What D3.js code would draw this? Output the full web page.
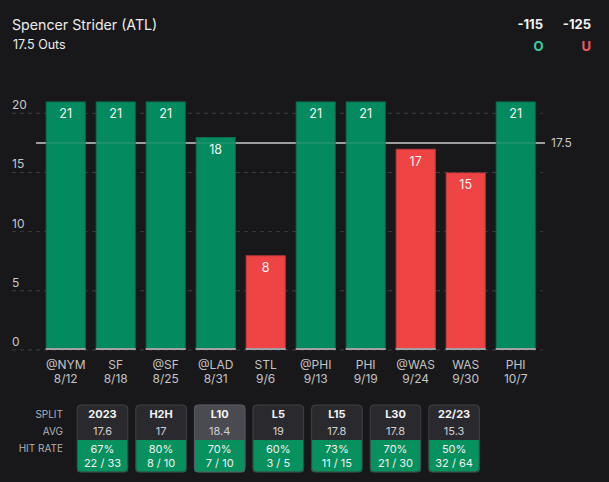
<!DOCTYPE html>
<html><head><meta charset="utf-8">
<script src="https://cdn.jsdelivr.net/npm/d3@7"></script>
<style>
html,body{margin:0;padding:0;background:#18181b;}
svg{display:block;font-family:Inter,Roboto,"Noto Sans",sans-serif;}
</style></head>
<body>
<svg id="c" width="609" height="482"></svg>
<script>
const player = "Spencer Strider (ATL)";
const propLabel = "17.5 Outs";
const lineValue = 17.5;
const overOdds = "-115";
const underOdds = "-125";
const opponents = ["@NYM","SF","@SF","@LAD","STL","@PHI","PHI","@WAS","WAS","PHI"];
const dates = ["8/12","8/18","8/25","8/31","9/6","9/13","9/19","9/24","9/30","10/7"];
const outs = [21,21,21,18,8,21,21,17,15,21];
const yTicks = [0,5,10,15,20];
const splitNames = ["2023","H2H","L10","L5","L15","L30","22/23"];
const splitAvg = ["17.6","17","18.4","19","17.8","17.8","15.3"];
const splitPct = ["67%","80%","70%","60%","73%","70%","50%"];
const splitHits = [22,8,7,3,11,21,32];
const splitGames = [33,10,10,5,15,30,64];
const activeSplit = "L10";

const GREEN = "#038b5f", RED = "#ef4444";
const svg = d3.select("#c");
svg.append("rect").attr("width",609).attr("height",482).attr("fill","#18181b");

// header
svg.append("text").attr("x",12).attr("y",30).attr("fill","#ececec")
  .attr("font-size",14.2).text(player);
svg.append("text").attr("x",13).attr("y",48.5).attr("fill","#ececec")
  .attr("font-size",12.5).text(propLabel);
svg.append("text").attr("x",543).attr("y",29).attr("text-anchor","end").attr("fill","#f2f2f2")
  .attr("font-size",13).attr("font-weight","bold").text(overOdds);
svg.append("text").attr("x",591).attr("y",29).attr("text-anchor","end").attr("fill","#f2f2f2")
  .attr("font-size",13).attr("font-weight","bold").text(underOdds);
svg.append("text").attr("x",543.5).attr("y",51).attr("text-anchor","end").attr("fill","#2fd39f")
  .attr("font-size",13).attr("font-weight","bold").text("O");
svg.append("text").attr("x",591).attr("y",51).attr("text-anchor","end").attr("fill","#f05b5b")
  .attr("font-size",13).attr("font-weight","bold").text("U");

// scales
const x = d3.scaleBand().domain(d3.range(outs.length)).range([40.7,540.7]).paddingInner(0.2).paddingOuter(0.1);
const y = d3.scaleLinear().domain([0,20]).range([350,113.3]);

// grid
const grid = svg.append("g");
grid.selectAll("line").data(yTicks).join("line")
  .attr("x1",12).attr("x2",543).attr("y1",d=>y(d)).attr("y2",d=>y(d))
  .attr("stroke","#3c3c40").attr("stroke-width",1).attr("stroke-dasharray","4,4");
grid.selectAll("text").data(yTicks).join("text")
  .attr("x",12).attr("y",d=>y(d)-4).attr("fill","#c8c8c8").attr("font-size",12).text(d=>d);

// line (behind bars)
svg.append("line").attr("x1",36).attr("x2",545).attr("y1",y(lineValue)).attr("y2",y(lineValue))
  .attr("stroke","#9a9a9a").attr("stroke-width",2);

// bars
const bars = svg.append("g");
outs.forEach((v,i)=>{
  const c = v > lineValue ? GREEN : RED;
  const stroke = v > lineValue ? "#0a6e4d" : "#c73a3a";
  bars.append("rect").attr("x",x(i)+0.5).attr("y",y(v)+0.5).attr("width",x.bandwidth()-1)
    .attr("height",y(0)-y(v)-1).attr("fill",c).attr("stroke",stroke).attr("stroke-width",1);
  bars.append("rect").attr("x",x(i)).attr("y",y(0)-2).attr("width",x.bandwidth()).attr("height",2)
    .attr("fill","#a0a0a6");
  bars.append("text").attr("x",x(i)+x.bandwidth()/2).attr("y",y(v)+17).attr("text-anchor","middle")
    .attr("fill","#f4f4f4").attr("font-size",12.5).text(v);
});
// faint line through bars
svg.append("line").attr("x1",36).attr("x2",545).attr("y1",y(lineValue)).attr("y2",y(lineValue))
  .attr("stroke","#b0b0b0").attr("stroke-opacity",0.15).attr("stroke-width",2);
svg.append("text").attr("x",551).attr("y",y(lineValue)+4.5).attr("fill","#c8c8c8")
  .attr("font-size",12).text(lineValue);

// x labels
const xl = svg.append("g");
opponents.forEach((o,i)=>{
  const cx = x(i)+x.bandwidth()/2;
  xl.append("text").attr("x",cx).attr("y",368.5).attr("text-anchor","middle").attr("fill","#c4c4c4")
    .attr("font-size",12).text(o);
  xl.append("text").attr("x",cx).attr("y",382.5).attr("text-anchor","middle").attr("fill","#c4c4c4")
    .attr("font-size",12).text(dates[i]);
});

// split table
const tbl = svg.append("g");
[["SPLIT",418],["AVG",434.5],["HIT RATE",451.5]].forEach(([t,yy])=>{
  tbl.append("text").attr("x",63).attr("y",yy).attr("text-anchor","end").attr("fill","#b0b0b4")
    .attr("font-size",10).text(t);
});
const defs = svg.append("defs");
const cardX = d3.scaleBand().domain(d3.range(splitNames.length)).range([76.7,479.9]).paddingInner(0.12).paddingOuter(0);
splitNames.forEach((s,i)=>{
  const cx0 = cardX(i), w = cardX.bandwidth(), top = 404.5, h = 68, mid = 440;
  defs.append("clipPath").attr("id","cp"+i).append("rect")
    .attr("x",cx0).attr("y",top).attr("width",w).attr("height",h).attr("rx",4);
  const g = tbl.append("g").attr("clip-path","url(#cp"+i+")");
  g.append("rect").attr("x",cx0).attr("y",top).attr("width",w).attr("height",mid-top)
    .attr("fill", s===activeSplit ? "#4a4a51" : "#2a2a2e");
  g.append("rect").attr("x",cx0).attr("y",mid).attr("width",w).attr("height",top+h-mid).attr("fill","#06915f");
  tbl.append("rect").attr("x",cx0+0.5).attr("y",top+0.5).attr("width",w-1).attr("height",h-1).attr("rx",4)
    .attr("fill","none").attr("stroke", s===activeSplit ? "#5a5a62" : "#3e3e44").attr("stroke-width",1);
  const c = cx0+w/2;
  tbl.append("text").attr("x",c).attr("y",418).attr("text-anchor","middle").attr("fill","#f4f4f4")
    .attr("font-size",11).attr("font-weight","bold").text(s);
  tbl.append("text").attr("x",c).attr("y",434.5).attr("text-anchor","middle").attr("fill","#cfcfd2")
    .attr("font-size",11).text(splitAvg[i]);
  tbl.append("text").attr("x",c).attr("y",452.5).attr("text-anchor","middle").attr("fill","#f2f2f2")
    .attr("font-size",11).text(splitPct[i]);
  tbl.append("text").attr("x",c).attr("y",466.5).attr("text-anchor","middle").attr("fill","#f2f2f2")
    .attr("font-size",11).text(splitHits[i]+" / "+splitGames[i]);
});
</script>
</body></html>
